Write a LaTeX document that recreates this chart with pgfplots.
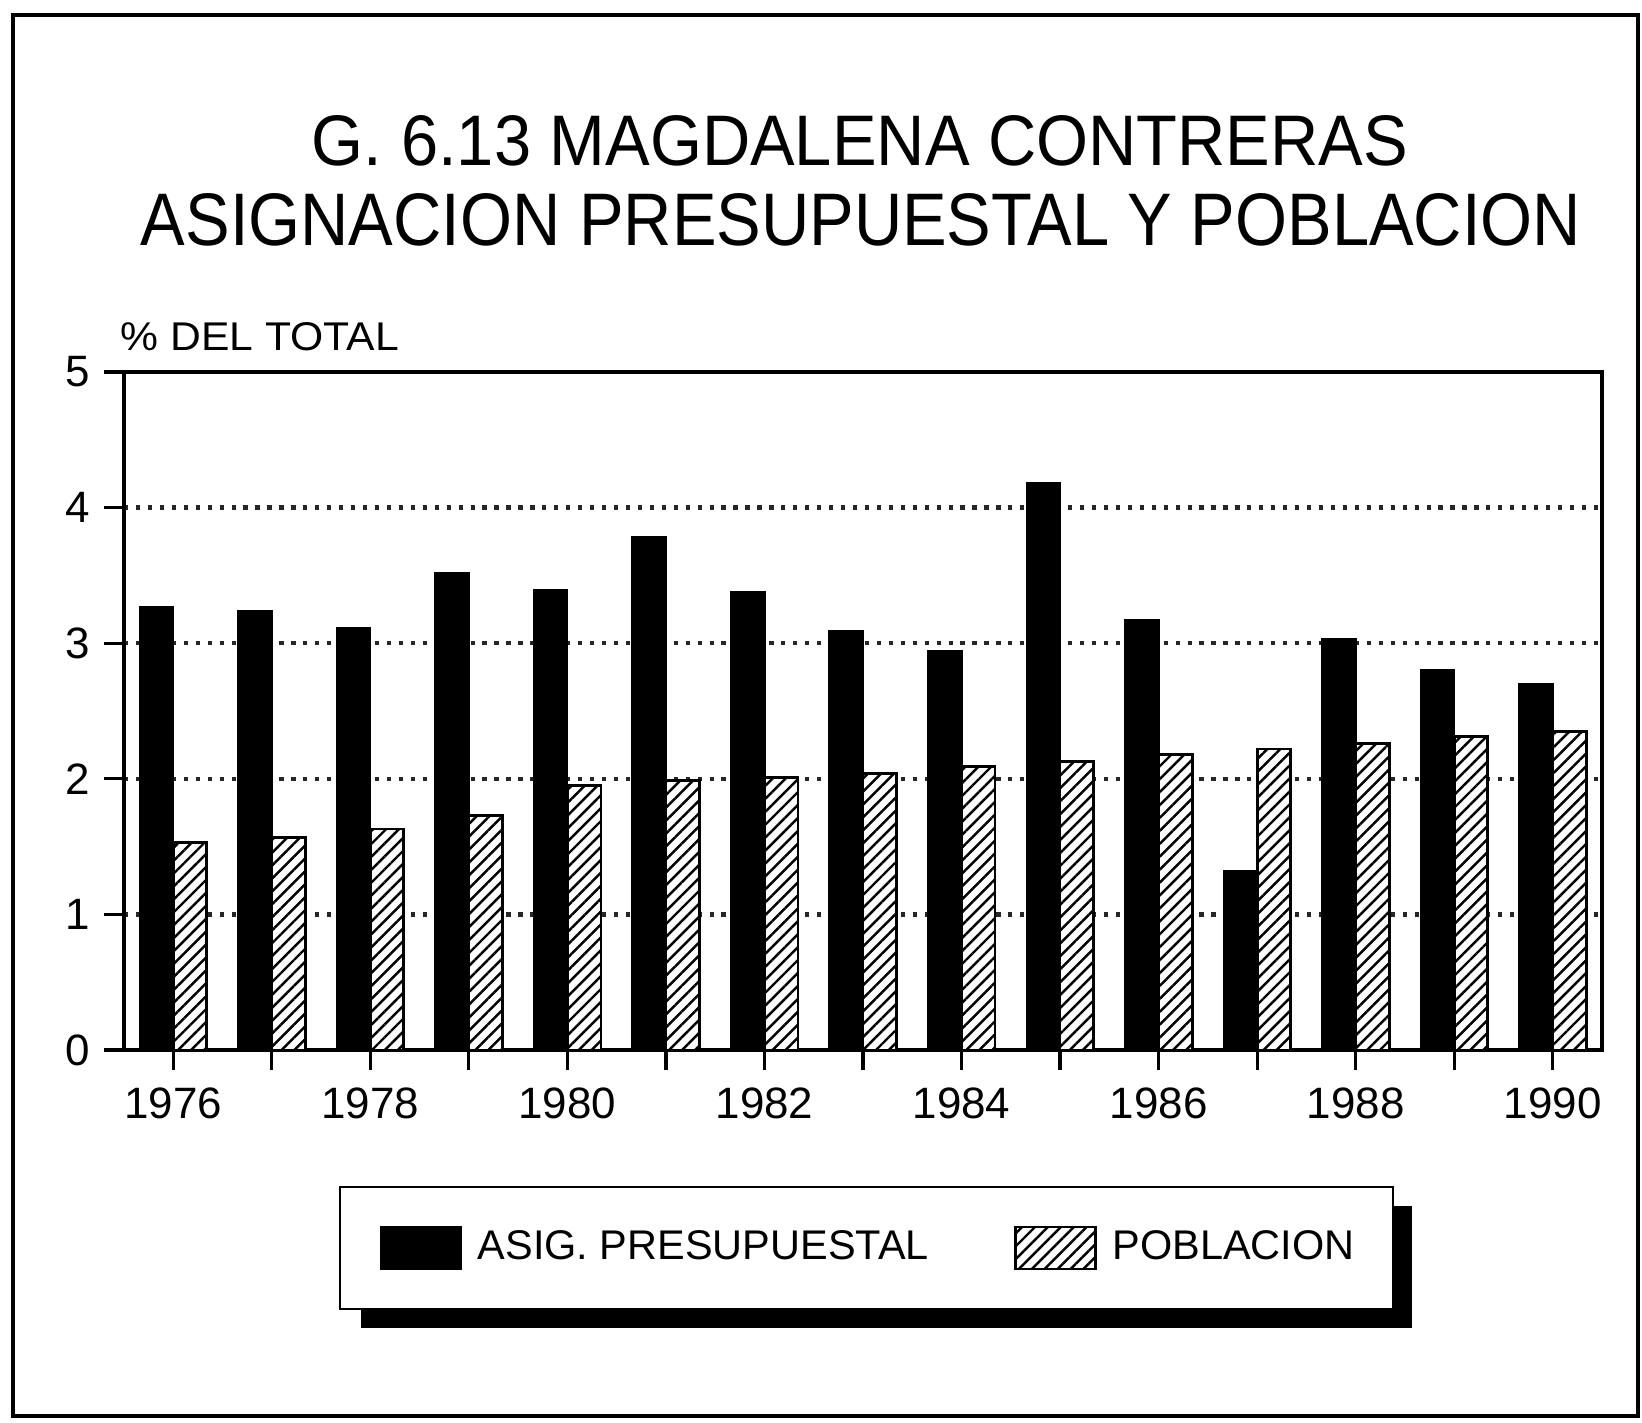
\documentclass[border=0pt]{standalone}
\usepackage{fontspec}
\setmainfont{Liberation Sans}
\usepackage{graphicx}
\usepackage{pgfplots}
\pgfplotsset{compat=1.18}
\usetikzlibrary{patterns.meta}

\pgfplotstableread{
x asig pob
0 3.27 1.53
1 3.24 1.57
2 3.11 1.63
3 3.52 1.73
4 3.39 1.95
5 3.78 1.99
6 3.38 2.01
7 3.09 2.04
8 2.94 2.09
9 4.18 2.13
10 3.17 2.18
11 1.32 2.22
12 3.03 2.26
13 2.80 2.31
14 2.70 2.35
}\datatable

\pgfplotsset{sqlegend/.style={area legend, legend image code/.code={\draw[##1] (0mm,-2.1mm) rectangle (8mm,2.1mm);}}}

\begin{document}
\begin{tikzpicture}
\path[use as bounding box] (0,0) rectangle (164.2mm,142.2mm);
\draw[line width=1pt] (1.3mm,0.6mm) rectangle (163.8mm,140.7mm);
\node[inner sep=0pt] at (86mm,128.1mm) {\resizebox{109.6mm}{5.0mm}{G. 6.13 MAGDALENA CONTRERAS}};
\node[inner sep=0pt] at (86.1mm,120.2mm) {\resizebox{144mm}{5.2mm}{ASIGNACION PRESUPUESTAL Y POBLACION}};
\node[inner sep=0pt, anchor=west] at (12.0mm,108.5mm) {\resizebox{27.8mm}{2.8mm}{\% DEL TOTAL}};
% legend frame with shadow
\fill[black] (36.1mm,9.4mm) rectangle (141.2mm,21.6mm);
\draw[line width=0.8pt, fill=white] (34.0mm,11.3mm) rectangle (139.3mm,23.5mm);
\begin{axis}[
  at={(12.4mm,37.2mm)}, anchor=south west,
  scale only axis, width=147.8mm, height=67.8mm,
  xmin=-0.5, xmax=14.5, ymin=0, ymax=5,
  ybar=0pt, bar width=0.34,
  xtick={0,...,14},
  xticklabels={1976,,1978,,1980,,1982,,1984,,1986,,1988,,1990},
  ytick={0,...,5},
  tick pos=left, tick align=outside, major tick length=2mm,
  ymajorgrids, grid style={line width=1.2pt, black!85, dash pattern=on 1.2pt off 2.2pt},
  axis line style={line width=0.9pt},
  tick style={line width=0.9pt, black},
  ticklabel style={font=\fontsize{12.5}{14}\selectfont},
  yticklabel style={xshift=-0.2mm},
  xticklabel style={yshift=-0.5mm},
  /pgf/number format/assume math mode=true,
  legend columns=2,
  legend style={draw=none, fill=none, at={(0.1725,-0.292)}, anchor=west,
    inner sep=0pt, font=\fontsize{11.8}{14}\selectfont,
    /tikz/every odd column/.append style={column sep=0.9mm},
    /tikz/every even column/.append style={column sep=7.8mm}},
  legend cell align=left,
]
\addplot[fill=black, draw=black, line width=0.6pt, sqlegend]
  table[x=x, y=asig] {\datatable};
\addlegendentry{ASIG. PRESUPUESTAL}
\addplot[fill=white, draw=black, line width=0.8pt,
  postaction={pattern={Lines[angle=45, distance=2.6pt, line width=0.7pt]}},
  sqlegend]
  table[x=x, y=pob] {\datatable};
\addlegendentry{POBLACION}
\end{axis}
\end{tikzpicture}
\end{document}
